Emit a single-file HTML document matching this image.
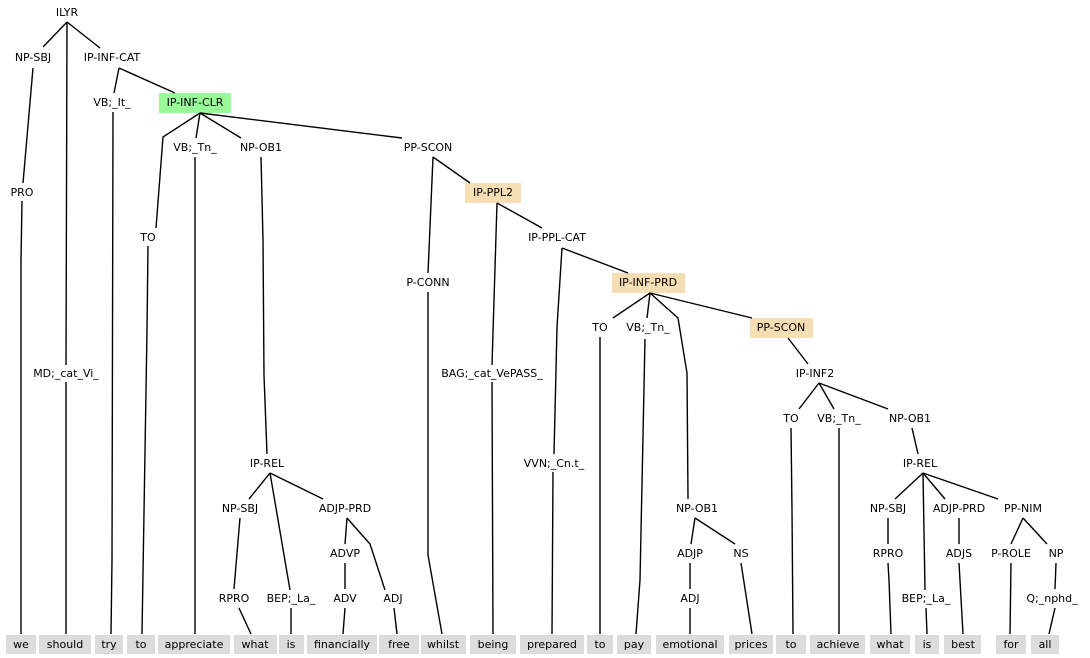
<!DOCTYPE html>
<html><head><meta charset="utf-8"><style>
html,body{margin:0;padding:0;background:#fff;}
svg{display:block;}
text{font-family:"DejaVu Sans","Liberation Sans",sans-serif;font-size:11px;fill:#000;text-anchor:middle;}
polyline{fill:none;stroke:#000;stroke-width:1.4;}
</style></head><body>
<svg width="1090" height="658" viewBox="0 0 1090 658" xmlns="http://www.w3.org/2000/svg">
<g fill="#dcdcdc">
<rect x="6" y="635" width="30" height="19"/><rect x="39" y="635" width="52" height="19"/>
<rect x="95" y="635" width="28" height="19"/><rect x="127" y="635" width="28" height="19"/>
<rect x="158" y="635" width="72" height="19"/><rect x="234" y="635" width="43" height="19"/>
<rect x="279" y="635" width="25" height="19"/><rect x="307" y="635" width="70" height="19"/>
<rect x="379" y="635" width="40" height="19"/><rect x="421" y="635" width="45" height="19"/>
<rect x="470" y="635" width="46" height="19"/><rect x="520" y="635" width="64" height="19"/>
<rect x="587" y="635" width="26" height="19"/><rect x="617" y="635" width="34" height="19"/>
<rect x="656" y="635" width="68" height="19"/><rect x="729" y="635" width="44" height="19"/>
<rect x="776" y="635" width="30" height="19"/><rect x="810" y="635" width="55" height="19"/>
<rect x="870" y="635" width="40" height="19"/><rect x="915" y="635" width="24" height="19"/>
<rect x="944" y="635" width="37" height="19"/><rect x="996" y="635" width="30" height="19"/>
<rect x="1031" y="635" width="28" height="19"/>
</g>
<rect x="159" y="93" width="72" height="20" fill="#98fb98"/>
<rect x="465" y="183" width="56" height="20" fill="#f5deb3"/>
<rect x="612" y="273" width="73" height="20" fill="#f5deb3"/>
<rect x="750" y="318" width="63" height="20" fill="#f5deb3"/>
<g>
<polyline points="67,22 43,47"/><polyline points="67,22 66,365"/><polyline points="67,22 100,48"/>
<polyline points="33,68 23,183"/><polyline points="22,201 21,260 21,634"/>
<polyline points="66,382 66,634"/>
<polyline points="119,68 114,93"/><polyline points="119,68 175,93"/>
<polyline points="113,112 112,560 111,634"/>
<polyline points="200,113 163,137 156,228"/><polyline points="148,246 147,330 142,634"/>
<polyline points="200,113 196,138"/><polyline points="195,157 195,634"/>
<polyline points="200,113 241,138"/><polyline points="261,157 263,240 264,375 267,454"/>
<polyline points="200,113 402,138"/>
<polyline points="270,473 249,499"/><polyline points="270,473 290,590"/><polyline points="270,473 323,499"/>
<polyline points="240,518 234,589"/><polyline points="239,608 251,634"/><polyline points="291,608 291,634"/>
<polyline points="347,518 345,544"/><polyline points="347,518 370,544 385,590"/>
<polyline points="345,563 345,589"/><polyline points="345,608 343,634"/><polyline points="394,608 397,634"/>
<polyline points="433,157 428,273"/><polyline points="433,157 470,183"/>
<polyline points="428,292 428,555 442,634"/>
<polyline points="497,203 492,365"/><polyline points="497,203 542,228"/>
<polyline points="492,382 493,634"/>
<polyline points="562,248 557,327 554,454"/><polyline points="562,248 628,273"/>
<polyline points="553,472 552,634"/>
<polyline points="650,293 613,318"/><polyline points="650,293 647,318"/>
<polyline points="650,293 678,318 687,373 688,499"/><polyline points="650,293 752,318"/>
<polyline points="600,337 600,634"/><polyline points="645,339 640,580 636,634"/>
<polyline points="695,518 691,544"/><polyline points="695,518 735,544"/>
<polyline points="690,563 690,589"/><polyline points="690,608 690,634"/><polyline points="741,563 752,634"/>
<polyline points="788,338 808,364"/>
<polyline points="819,383 799,409"/><polyline points="819,383 834,409"/><polyline points="819,383 888,409"/>
<polyline points="791,428 792,510 793,634"/><polyline points="839,428 839,634"/>
<polyline points="912,428 918,454"/>
<polyline points="923,473 895,499"/><polyline points="923,473 925,590"/><polyline points="923,473 945,499"/><polyline points="923,473 998,499"/>
<polyline points="888,518 888,544"/><polyline points="888,563 889,580 891,634"/>
<polyline points="926,608 927,634"/><polyline points="959,518 959,544"/><polyline points="959,563 963,634"/>
<polyline points="1023,518 1011,544"/><polyline points="1023,518 1047,544"/>
<polyline points="1011,563 1010,634"/><polyline points="1056,563 1055,589"/><polyline points="1055,608 1049,634"/>
</g>
<g>
<text x="67" y="16">ILYR</text>
<text x="33" y="61">NP-SBJ</text><text x="112" y="61">IP-INF-CAT</text>
<text x="112" y="106">VB;_It_</text><text x="195" y="106">IP-INF-CLR</text>
<text x="195" y="151">VB;_Tn_</text><text x="261" y="151">NP-OB1</text><text x="428" y="151">PP-SCON</text>
<text x="22" y="196">PRO</text><text x="493" y="196">IP-PPL2</text>
<text x="148" y="241">TO</text><text x="557" y="241">IP-PPL-CAT</text>
<text x="428" y="286">P-CONN</text><text x="648" y="286">IP-INF-PRD</text>
<text x="600" y="331">TO</text><text x="648" y="331">VB;_Tn_</text><text x="781" y="331">PP-SCON</text>
<text x="66" y="377">MD;_cat_Vi_</text><text x="492" y="377">BAG;_cat_VePASS_</text><text x="815" y="377">IP-INF2</text>
<text x="791" y="422">TO</text><text x="839" y="422">VB;_Tn_</text><text x="910" y="422">NP-OB1</text>
<text x="267" y="467">IP-REL</text><text x="554" y="467">VVN;_Cn.t_</text><text x="920" y="467">IP-REL</text>
<text x="240" y="512">NP-SBJ</text><text x="345" y="512">ADJP-PRD</text><text x="697" y="512">NP-OB1</text>
<text x="888" y="512">NP-SBJ</text><text x="959" y="512">ADJP-PRD</text><text x="1023" y="512">PP-NIM</text>
<text x="345" y="557">ADVP</text><text x="690" y="557">ADJP</text><text x="741" y="557">NS</text>
<text x="888" y="557">RPRO</text><text x="959" y="557">ADJS</text><text x="1011" y="557">P-ROLE</text><text x="1056" y="557">NP</text>
<text x="234" y="602">RPRO</text><text x="291" y="602">BEP;_La_</text><text x="345" y="602">ADV</text><text x="393" y="602">ADJ</text>
<text x="690" y="602">ADJ</text><text x="926" y="602">BEP;_La_</text><text x="1052" y="602">Q;_nphd_</text>
<text x="21" y="648">we</text><text x="65" y="648">should</text><text x="109" y="648">try</text><text x="141" y="648">to</text>
<text x="194" y="648">appreciate</text><text x="255" y="648">what</text><text x="291" y="648">is</text>
<text x="342" y="648">financially</text><text x="399" y="648">free</text><text x="443" y="648">whilst</text>
<text x="493" y="648">being</text><text x="552" y="648">prepared</text><text x="600" y="648">to</text>
<text x="634" y="648">pay</text><text x="690" y="648">emotional</text><text x="751" y="648">prices</text>
<text x="791" y="648">to</text><text x="838" y="648">achieve</text><text x="890" y="648">what</text>
<text x="927" y="648">is</text><text x="963" y="648">best</text><text x="1011" y="648">for</text><text x="1045" y="648">all</text>
</g>
</svg>
</body></html>
